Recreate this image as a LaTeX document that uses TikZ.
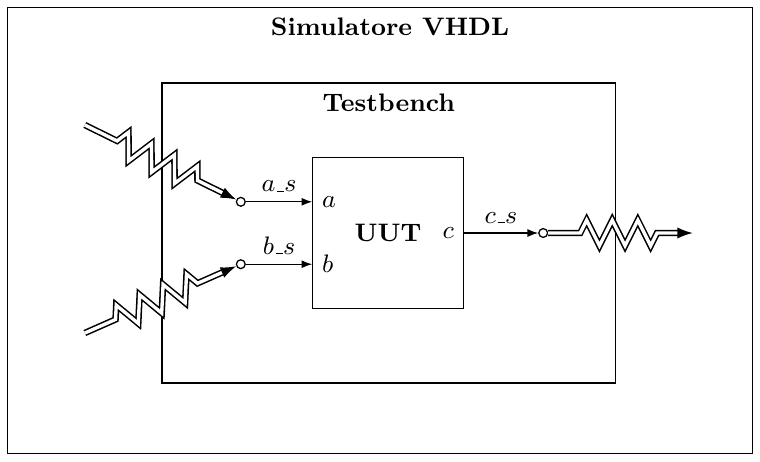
\documentclass[tikz,border=0pt]{standalone}
\usetikzlibrary{arrows.meta, decorations.pathmorphing}
\newcommand{\trattino}{\mbox{\kern.06em\vbox{\hrule width.3em}}}

\begin{document}
\begin{tikzpicture}[
    font=\small,
    cornice/.style={draw, line width=0.4pt, inner sep=0pt},
    porta/.style={circle, draw, fill=white, line width=0.45pt, inner sep=0pt, minimum size=0.11cm},
    filo/.style={line width=0.4pt, -{Latex[length=3.8pt, width=2.8pt]}},
    molla/.style={double, line width=0.55pt, double distance=1.2pt,
      -{Latex[length=5.5pt, width=4pt]},
      decorate, decoration={zigzag, segment length=0.32cm, amplitude=0.16cm,
        pre length=#1, post length=0.4cm}},
    molla/.default=0.45cm
  ]
      \useasboundingbox (0, 0) rectangle (9.5, 5.7625);
      % contenitori
      \node[cornice, minimum width=9.32cm, minimum height=5.58cm] (sim) at (4.75, 2.88) {};
      \node[font=\small\bfseries] (titolo) at (4.875, 5.425) {Simulatore VHDL};
      \node[cornice, minimum width=5.665cm, minimum height=3.75cm] (tb) at (4.8575, 2.85) {};
      \node[font=\small\bfseries] (tbtitolo) at (4.86, 4.475) {Testbench};
      \node[cornice, minimum width=1.88cm, minimum height=1.88cm, font=\small\bfseries] (uut) at (4.85, 2.85) {UUT};
      % porte
      \node[porta] (pa) at (3.01, 3.24) {};
      \node[porta] (pb) at (3.01, 2.46) {};
      \node[porta] (pc) at (6.79, 2.85) {};
      \node[right] (la) at (uut.west |- pa) {$a$};
      \node[right] (lb) at (uut.west |- pb) {$b$};
      \node[left] (lc) at (uut.east |- pc) {$c$};
      \coordinate (sa) at (1.06, 4.2);
      \coordinate (sb) at (1.06, 1.6);
      \coordinate (ec) at (8.66, 2.85);
      % segnali
      \draw[filo] (pa) -- node[above] {$a\trattino s$} (la.west);
      \draw[filo] (pb) -- node[above] {$b\trattino s$} (lb.west);
      \draw[filo] (lc.east) -- node[above] {$c\trattino s$} (pc);
      \draw[molla] (sa) -- (pa);
      \draw[molla=0.42cm] (sb) -- (pb);
      \draw[molla=0.4cm] (pc) -- (ec);
    \end{tikzpicture}
\end{document}
